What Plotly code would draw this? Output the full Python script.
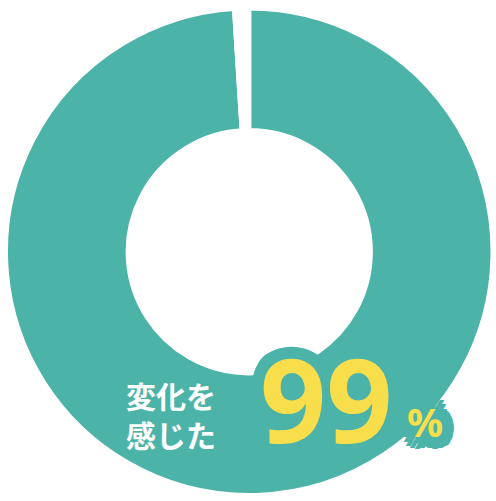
import plotly.graph_objects as go

# share of respondents
labels = ['変化を感じた', 'その他']
values = [99, 1]
colors = ['#4cb3a9', '#ffffff']

W, H = 496, 501
TEAL = '#4cb3a9'
YELLOW = '#f9de4b'


def px_x(x):
    return x / W


def px_y(y):
    return 1 - y / H


# thick teal outline behind the big number, done with stacked text shadows
outline = ', '.join(
    f'{TEAL} {dx}px {dy}px 0'
    for dx, dy in [(12, 0), (-12, 0), (0, 12), (0, -12), (9, 9), (-9, 9), (9, -9), (-9, -9),
                   (11, 5), (-11, 5), (11, -5), (-11, -5), (5, 11), (-5, 11), (5, -11), (-5, -11),
                   (6, 0), (-6, 0), (0, 6), (0, -6)]
)

fig = go.Figure(go.Pie(
    labels=labels, values=values, hole=0.5, sort=False, direction='clockwise', rotation=0,
    marker=dict(colors=colors, line=dict(color='#ffffff', width=4)),
    textinfo='none', hoverinfo='none',
    domain=dict(x=[px_x(6), px_x(492.5)], y=[px_y(495), px_y(8.5)]),
))

fig.add_annotation(x=px_x(326), y=px_y(398), xref='paper', yref='paper', showarrow=False,
                   xanchor='center', yanchor='middle', text='<b>99</b>',
                   font=dict(family='Noto Sans', size=116, color=YELLOW, shadow=outline))
fig.add_annotation(x=px_x(425), y=px_y(421), xref='paper', yref='paper', showarrow=False,
                   xanchor='center', yanchor='middle', text='<b>%</b>',
                   font=dict(family='Noto Sans', size=40, color=YELLOW, shadow=outline))
fig.add_annotation(x=px_x(171), y=px_y(414), xref='paper', yref='paper', showarrow=False,
                   xanchor='center', yanchor='middle', text='<b>変化を<br>感じた</b>', align='left',
                   font=dict(family='Noto Sans CJK JP', size=30, color='#ffffff'))

fig.update_layout(width=W, height=H, margin=dict(l=0, r=0, t=0, b=0), showlegend=False,
                  paper_bgcolor='#ffffff', plot_bgcolor='#ffffff')
fig.write_html('out.html', config={'displayModeBar': False},
               post_script="document.body.style.margin = '0';")
